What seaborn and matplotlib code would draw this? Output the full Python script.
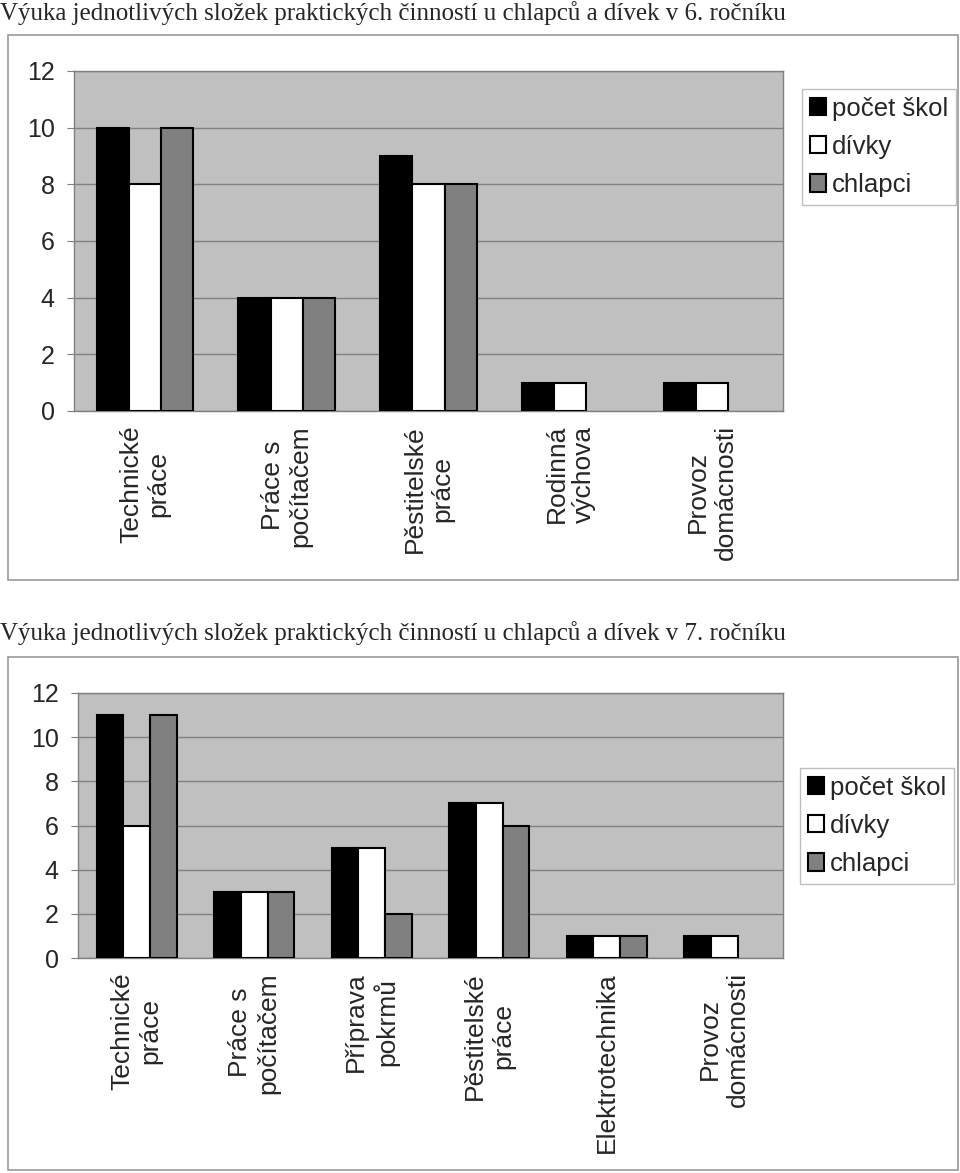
import pandas as pd
import matplotlib.pyplot as plt
import matplotlib.patches as mpatches
import seaborn as sns

# Data
series = ['počet škol', 'dívky', 'chlapci']
colors = ['#000000', '#ffffff', '#808080']

cats_6 = ['Technické\npráce', 'Práce s\npočítačem', 'Pěstitelské\npráce',
          'Rodinná\nvýchova', 'Provoz\ndomácnosti']
skoly_6 = [10, 4, 9, 1, 1]
divky_6 = [8, 4, 8, 1, 1]
chlapci_6 = [10, 4, 8, 0, 0]

cats_7 = ['Technické\npráce', 'Práce s\npočítačem', 'Příprava\npokrmů',
          'Pěstitelské\npráce', 'Elektrotechnika', 'Provoz\ndomácnosti']
skoly_7 = [11, 3, 5, 7, 1, 1]
divky_7 = [6, 3, 5, 7, 1, 1]
chlapci_7 = [11, 3, 2, 6, 1, 0]

title_6 = 'Výuka jednotlivých složek praktických činností u chlapců a dívek v 6. ročníku'
title_7 = 'Výuka jednotlivých složek praktických činností u chlapců a dívek v 7. ročníku'

sns.set_style('white')
plt.rcParams['font.family'] = ['Liberation Sans', 'DejaVu Sans']

W, H = 960, 1173
fig = plt.figure(figsize=(W / 100, H / 100), dpi=100)


def px_rect(x0, y0, x1, y1):
    # pixel box (top-left origin) -> figure fraction [left, bottom, width, height]
    return [x0 / W, 1 - y1 / H, (x1 - x0) / W, (y1 - y0) / H]


def draw_chart(cats, vals, title, frame, axbox, title_y, legend_xy):
    # outer frame of the chart
    fr = px_rect(*frame)
    fig.patches.append(mpatches.Rectangle((fr[0], fr[1]), fr[2], fr[3],
                                          transform=fig.transFigure, fill=False,
                                          edgecolor='#9a9a9a', linewidth=1.2))
    fig.text(0.0, 1 - title_y / H, title, family='Liberation Serif',
             fontsize=18, va='top', ha='left')

    ax = fig.add_axes(px_rect(*axbox))
    rows = []
    for s, v in zip(series, vals):
        for c, x in zip(cats, v):
            rows.append({'cat': c, 'serie': s, 'val': x})
    df = pd.DataFrame(rows)
    sns.barplot(data=df, x='cat', y='val', hue='serie', palette=colors,
                saturation=1, width=0.68, edgecolor='black', linewidth=1.5,
                ax=ax, zorder=3)
    # empty bars are not drawn in the original
    for cont in ax.containers:
        for p in cont:
            if p.get_height() == 0:
                p.set_visible(False)

    ax.set_facecolor('#c0c0c0')
    ax.set_ylim(0, 12)
    ax.set_yticks(range(0, 13, 2))
    ax.yaxis.grid(True, color='#808080', linewidth=1, zorder=0)
    ax.set_axisbelow(True)
    ax.set_xlim(-0.5, len(cats) - 0.5)
    ax.set_xlabel('')
    ax.set_ylabel('')
    for sp in ax.spines.values():
        sp.set_color('#808080')
        sp.set_linewidth(1)

    ax.set_xticks(range(len(cats)))
    ax.set_xticklabels(cats, rotation=90, ha='center', va='top',
                       multialignment='center', fontsize=19)
    ax.set_xticks([i - 0.5 for i in range(len(cats) + 1)], minor=True)
    ax.tick_params(axis='x', which='major', length=0, pad=10)
    ax.tick_params(axis='x', which='minor', length=5, color='#808080')
    ax.tick_params(axis='y', length=5, color='#808080', labelsize=18, pad=9,
                   left=True)

    h, l = ax.get_legend_handles_labels()
    ax.get_legend().remove()
    leg = fig.legend(h, l, loc='upper left',
                     bbox_to_anchor=(legend_xy[0] / W, 1 - legend_xy[1] / H),
                     bbox_transform=fig.transFigure, fontsize=18.5,
                     frameon=True, fancybox=False, edgecolor='#b0b0b0',
                     handlelength=0.65, handleheight=0.65, handletextpad=0.2,
                     labelspacing=0.55, borderpad=0.3, borderaxespad=0)
    leg.get_frame().set_linewidth(1)
    for p in leg.get_patches():
        p.set_visible(True)
        p.set_edgecolor('black')
        p.set_linewidth(1.5)
    return ax


draw_chart(cats_6, [skoly_6, divky_6, chlapci_6], title_6,
           (8, 35, 958, 580), (74, 71, 783, 411), 1, (802, 89))
draw_chart(cats_7, [skoly_7, divky_7, chlapci_7], title_7,
           (8, 657, 958, 1170), (78, 693, 783, 958), 621, (800, 768))

fig.savefig('out.png', dpi=100, facecolor='white')
